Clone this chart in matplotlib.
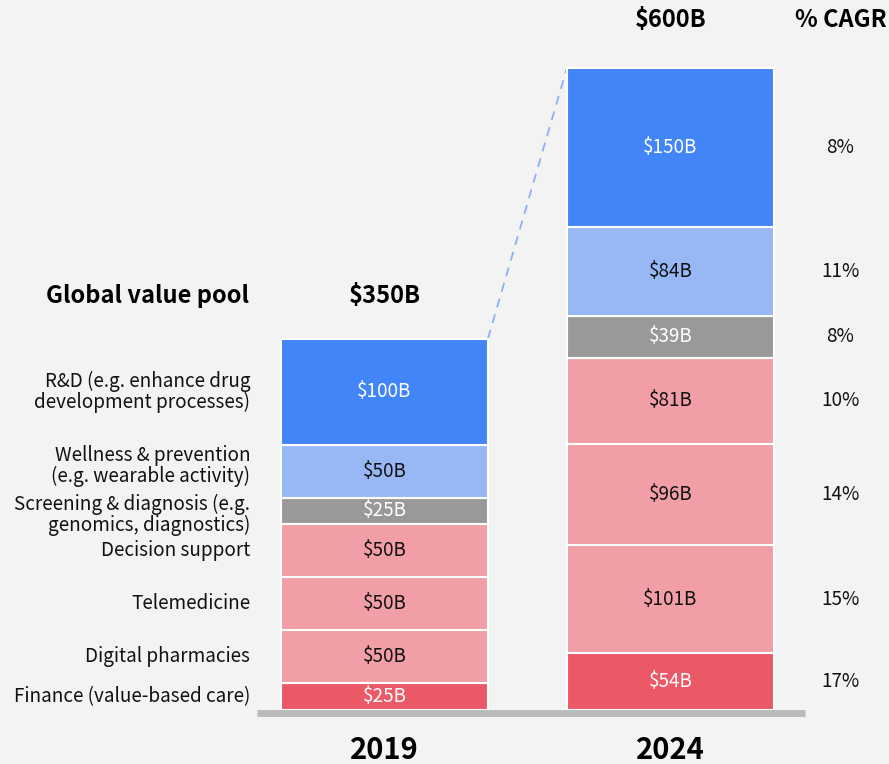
import matplotlib.pyplot as plt

plt.rcParams["font.family"] = ["Noto Sans CJK SC", "DejaVu Sans"]

years = ["2019", "2024"]
totals = ["$350B", "$600B"]
# segments listed bottom to top
segments = [
    "Finance (value-based care)",
    "Digital pharmacies",
    "Telemedicine",
    "Decision support",
    "Screening & diagnosis (e.g.\ngenomics, diagnostics)",
    "Wellness & prevention\n(e.g. wearable activity)",
    "R&D (e.g. enhance drug\ndevelopment processes)",
]
values_2019 = [25, 50, 50, 50, 25, 50, 100]
values_2024 = [54, 101, 96, 81, 39, 84, 150]
cagr = ["17%", "15%", "14%", "10%", "8%", "11%", "8%"]

colors = ["#ec5966", "#f19ea6", "#f19ea6", "#f19ea6", "#999999", "#97b8f4", "#4285f8"]
text_colors = ["white", "#111111", "#111111", "#111111", "white", "#111111", "white"]
# small vertical nudges (points) so the two-line labels don't collide
label_nudge = [0, 0, 0, 0, -3, 4, 0]

bg = "#f3f3f3"
fig = plt.figure(figsize=(8.89, 7.64), dpi=100, facecolor=bg)
ax = fig.add_axes([0, 0, 1, 1])
ax.set_facecolor(bg)
ax.set_xlim(-1.344, 1.764)
ax.set_ylim(-50.9, 669)
ax.axis("off")

width = 0.724
fs = 13.6

for xi, vals in enumerate([values_2019, values_2024]):
    bottom = 0
    for i, v in enumerate(vals):
        ax.bar(xi, v, width=width, bottom=bottom, color=colors[i],
               edgecolor="white", linewidth=1.5, zorder=2)
        mid = bottom + v / 2
        ax.text(xi, mid, f"${v}B", ha="center", va="center",
                fontsize=fs, color=text_colors[i], zorder=3)
        if xi == 0:
            ax.annotate(segments[i], (-0.469, mid), xytext=(0, label_nudge[i]),
                        textcoords="offset points", ha="right", va="center",
                        fontsize=fs, color="#111111", linespacing=1.0)
        else:
            ax.text(1.594, mid, cagr[i], ha="center", va="center",
                    fontsize=fs, color="#111111")
        bottom += v

top19 = sum(values_2019)
top24 = sum(values_2024)

# baseline
ax.plot([-0.445, 1.47], [-2.5, -2.5], color="#bbbbbb", lw=5,
        solid_capstyle="butt", zorder=4)

# connector between bar tops
ax.plot([width / 2, 1 - width / 2], [top19, top24], color="#8ab0f5",
        lw=1.3, ls=(0, (5, 4)), zorder=1)

# headers
hfs = 17
ax.text(0, top19 + 40, totals[0], ha="center", va="center",
        fontsize=hfs, fontweight="bold")
ax.text(-0.475, top19 + 40, "Global value pool", ha="right", va="center",
        fontsize=hfs, fontweight="bold")
ax.text(1, 650, totals[1], ha="center", va="center",
        fontsize=hfs, fontweight="bold")
ax.text(1.594, 650, "% CAGR", ha="center", va="center",
        fontsize=hfs, fontweight="bold")

for xi, yr in enumerate(years):
    ax.text(xi, -38, yr, ha="center", va="center",
            fontsize=21, fontweight="bold")

fig.savefig("out.png", dpi=100, facecolor=bg)
